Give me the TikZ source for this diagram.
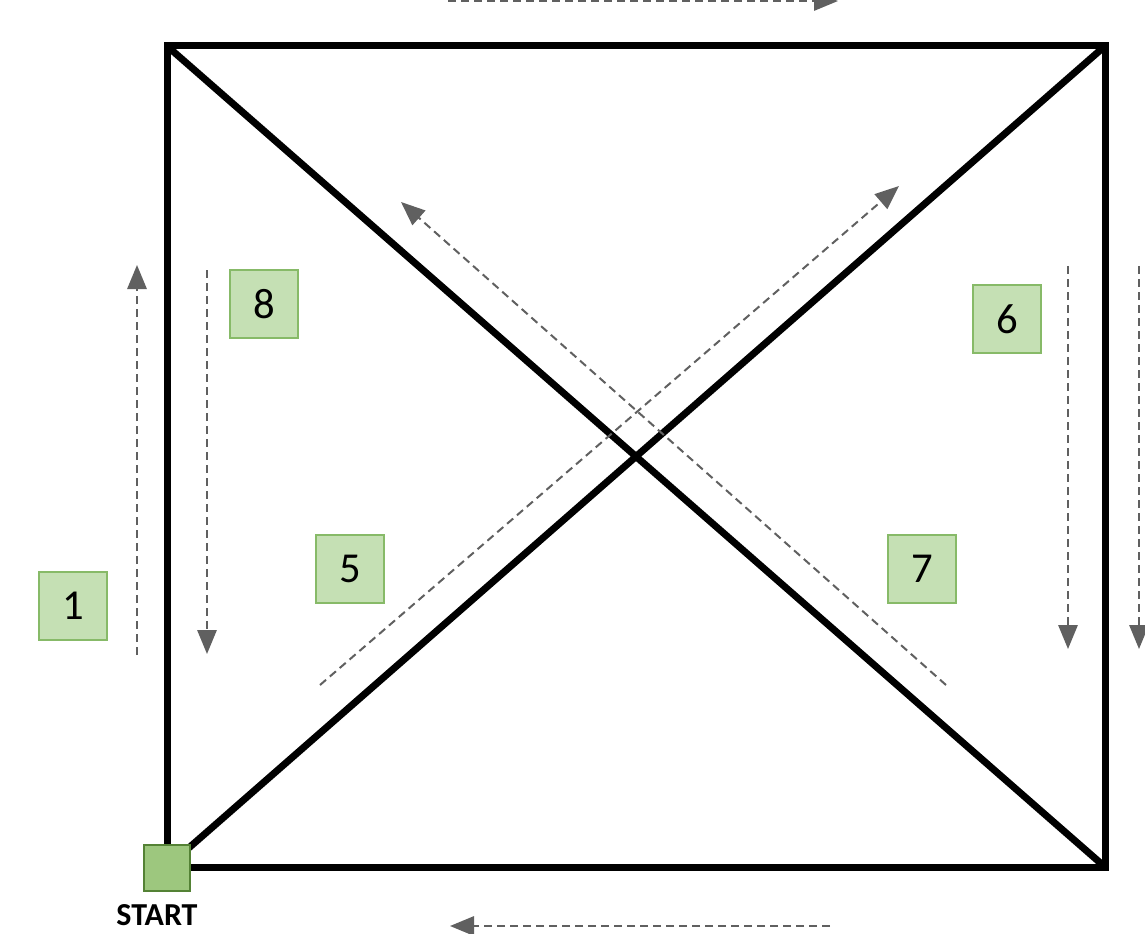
\documentclass[tikz,border=0pt]{standalone}
\usepackage{fontspec}
\setmainfont{Carlito}
\usetikzlibrary{arrows.meta}
\definecolor{boxfill}{RGB}{197,224,180}
\definecolor{boxline}{RGB}{135,186,104}
\definecolor{startfill}{RGB}{157,199,126}
\definecolor{startline}{RGB}{84,130,53}
\definecolor{pathgray}{RGB}{96,96,96}
\tikzset{
    wall/.style={line width=5.25pt, line join=miter},
    numbox/.style={draw=boxline, fill=boxfill, line width=1.5pt, minimum size=51pt, inner sep=0pt, font=\fontsize{32}{36}\selectfont},
    startbox/.style={draw=startline, fill=startfill, line width=1.5pt, minimum size=34pt, inner sep=0pt},
    walkarrow/.style={draw=pathgray, line width=1.5pt, dash pattern=on 6pt off 3.75pt, -{Triangle[length=18pt,width=14.5pt,fill=pathgray]}},
}
\begin{document}
\begin{tikzpicture}[x=0.75pt,y=0.75pt,yscale=-1,xscale=1]
        \clip (0,0) rectangle (1145,934);
        % room corners
        \coordinate (tl) at (167,46);
        \coordinate (tr) at (1105,46);
        \coordinate (br) at (1105,867);
        \coordinate (bl) at (167,867);
        \draw [wall] (tl) -- (tr) -- (br) -- (bl) -- cycle;
        \draw [wall] (tl) -- (br);
        \draw [wall] (bl) -- (tr);
        % start
        \node [startbox] (start) at (167,868) {};
        \node [anchor=base, inner sep=0pt, font=\bfseries\fontsize{24}{26}\selectfont] (startlabel) at (157,925) {START};
        % walking path ends
        \coordinate (topS) at (448,1);
        \coordinate (topE) at (838,1);
        \coordinate (botS) at (830,926);
        \coordinate (botE) at (450,926);
        \coordinate (oneS) at (137,655);
        \coordinate (oneE) at (137,265);
        \coordinate (eightS) at (207,270);
        \coordinate (eightE) at (207,654);
        \coordinate (fiveS) at (320,685);
        \coordinate (fiveE) at (899,186);
        \coordinate (sevenS) at (946,685);
        \coordinate (sevenE) at (401,202);
        \coordinate (sixS) at (1068,266);
        \coordinate (sixE) at (1068,649);
        \coordinate (outS) at (1139,266);
        \coordinate (outE) at (1139,649);
        \draw [walkarrow] (topS) -- (topE);
        \draw [walkarrow] (botS) -- (botE);
        \draw [walkarrow] (oneS) -- (oneE);
        \draw [walkarrow] (eightS) -- (eightE);
        \draw [walkarrow] (fiveS) -- (fiveE);
        \draw [walkarrow] (sevenS) -- (sevenE);
        \draw [walkarrow] (sixS) -- (sixE);
        \draw [walkarrow] (outS) -- (outE);
        % step numbers
        \node [numbox] (n1) at (73,606) {1};
        \node [numbox] (n8) at (264,304) {8};
        \node [numbox] (n5) at (350,569) {5};
        \node [numbox] (n7) at (922,569) {7};
        \node [numbox] (n6) at (1007,319) {6};
\end{tikzpicture}
\end{document}
